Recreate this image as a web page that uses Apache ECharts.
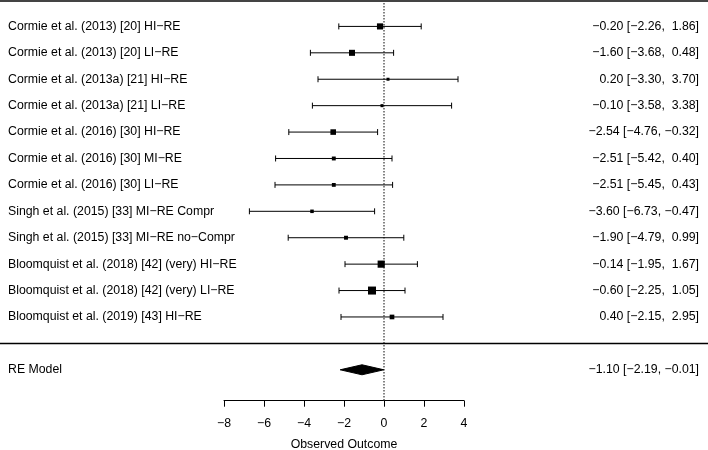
<!DOCTYPE html>
<html>
<head>
<meta charset="utf-8">
<script src="https://cdn.jsdelivr.net/npm/echarts@6/dist/echarts.min.js"></script>
<style>
html,body{margin:0;padding:0;background:#fff;}
#chart{width:708px;height:450px;}
</style>
</head>
<body>
<div id="chart"></div>
<script>
// ---- data ----
const studies = [
  'Cormie et al. (2013) [20] HI\u2212RE',
  'Cormie et al. (2013) [20] LI\u2212RE',
  'Cormie et al. (2013a) [21] HI\u2212RE',
  'Cormie et al. (2013a) [21] LI\u2212RE',
  'Cormie et al. (2016) [30] HI\u2212RE',
  'Cormie et al. (2016) [30] MI\u2212RE',
  'Cormie et al. (2016) [30] LI\u2212RE',
  'Singh et al. (2015) [33] MI\u2212RE Compr',
  'Singh et al. (2015) [33] MI\u2212RE no\u2212Compr',
  'Bloomquist et al. (2018) [42] (very) HI\u2212RE',
  'Bloomquist et al. (2018) [42] (very) LI\u2212RE',
  'Bloomquist et al. (2019) [43] HI\u2212RE'
];
const estimates = [-0.20, -1.60, 0.20, -0.10, -2.54, -2.51, -2.51, -3.60, -1.90, -0.14, -0.60, 0.40];
const ciLower   = [-2.26, -3.68, -3.30, -3.58, -4.76, -5.42, -5.45, -6.73, -4.79, -1.95, -2.25, -2.15];
const ciUpper   = [ 1.86,  0.48,  3.70,  3.38, -0.32,  0.40,  0.43, -0.47,  0.99,  1.67,  1.05,  2.95];
const summaryLabel = 'RE Model';
const summaryEstimate = -1.10;
const summaryLower = -2.19;
const summaryUpper = -0.01;
const xTicks = [-8, -6, -4, -2, 0, 2, 4];
const xAxisTitle = 'Observed Outcome';

// ---- helpers ----
const FONT = 'Liberation Sans, Arial, Helvetica, sans-serif';
const FS = 12.3;
function fmt(v){
  const s = (v < 0 ? '\u2212' : '') + Math.abs(v).toFixed(2);
  return s.length < 5 ? ' '.repeat(5 - s.length) + s : s;
}
function ciText(e, l, u){ return fmt(e) + ' [' + fmt(l) + ', ' + fmt(u) + ']'; }

// marker size from inverse standard error (as metafor does)
const wts = ciLower.map((l, i) => 1 / ((ciUpper[i] - l) / 3.92));
const wMin = Math.min(...wts), wMax = Math.max(...wts);
const sizes = wts.map(w => 3 + 5 * (w - wMin) / (wMax - wMin));

const k = studies.length;
const sepRow = k + 1;
const sumRow = k + 2;
const yMax = 15.17;

const studyData = estimates.map((e, i) => [e, ciLower[i], ciUpper[i], i + 1]);

const chart = echarts.init(document.getElementById('chart'), null, {renderer: 'canvas'});
const W = 708;

const option = {
  animation: false,
  backgroundColor: '#fff',
  grid: {left: 224, right: 244, top: 0, bottom: 49.3, containLabel: false, outerBoundsMode: 'none'},
  xAxis: {
    type: 'value', min: xTicks[0], max: xTicks[xTicks.length - 1], interval: 2,
    position: 'bottom',
    axisLine: {show: true, onZero: false, lineStyle: {color: '#000', width: 1}},
    axisTick: {show: true, inside: false, length: 6, lineStyle: {color: '#000', width: 1}},
    axisLabel: {color: '#000', fontSize: FS, fontFamily: FONT, margin: 17,
      formatter: v => (v < 0 ? '\u2212' : '') + Math.abs(v)},
    splitLine: {show: false},
    name: xAxisTitle, nameLocation: 'middle', nameGap: 38,
    nameTextStyle: {color: '#000', fontSize: FS, fontFamily: FONT}
  },
  yAxis: {type: 'value', inverse: true, min: 0, max: yMax, show: false},
  series: [
    {
      type: 'custom', clip: false, z: 1,
      data: [[0, 0]],
      encode: {x: 0, y: 1},
      renderItem: function(params, api){
        const top = api.coord([0, 0]);
        const bot = api.coord([0, yMax]);
        const sep = api.coord([0, sepRow]);
        return {type: 'group', children: [
          {type: 'line', shape: {x1: top[0], y1: top[1], x2: bot[0], y2: bot[1]},
            style: {stroke: '#333', lineWidth: 1.2, lineDash: [1.5, 1.5]}},
          {type: 'line', shape: {x1: 0, y1: top[1] + 1, x2: W, y2: top[1] + 1},
            style: {stroke: '#444', lineWidth: 2}},
          {type: 'line', shape: {x1: 0, y1: sep[1], x2: W, y2: sep[1]},
            style: {stroke: '#000', lineWidth: 1.5}}
        ]};
      }
    },
    {
      type: 'custom', clip: false, z: 2,
      data: studyData,
      dimensions: ['est', 'lo', 'hi', 'row'],
      encode: {x: [0, 1, 2], y: 3},
      renderItem: function(params, api){
        const i = params.dataIndex;
        const row = api.value(3);
        const pE = api.coord([api.value(0), row]);
        const pL = api.coord([api.value(1), row]);
        const pH = api.coord([api.value(2), row]);
        const y = pE[1];
        const s = sizes[i];
        const ls = {stroke: '#000', lineWidth: 1};
        return {type: 'group', children: [
          {type: 'line', shape: {x1: pL[0], y1: y, x2: pH[0], y2: y}, style: ls},
          {type: 'line', shape: {x1: pL[0], y1: y - 3, x2: pL[0], y2: y + 3}, style: ls},
          {type: 'line', shape: {x1: pH[0], y1: y - 3, x2: pH[0], y2: y + 3}, style: ls},
          {type: 'rect', shape: {x: pE[0] - s / 2, y: y - s / 2, width: s, height: s}, style: {fill: '#000'}},
          {type: 'text', x: 8, y: y, style: {text: studies[i], fill: '#000', fontSize: FS, fontFamily: FONT, align: 'left', verticalAlign: 'middle'}},
          {type: 'text', x: 699, y: y, style: {text: ciText(estimates[i], ciLower[i], ciUpper[i]), fill: '#000', fontSize: FS, fontFamily: FONT, align: 'right', verticalAlign: 'middle'}}
        ]};
      }
    },
    {
      type: 'custom', clip: false, z: 3,
      data: [[summaryEstimate, summaryLower, summaryUpper, sumRow]],
      encode: {x: [0, 1, 2], y: 3},
      renderItem: function(params, api){
        const row = api.value(3);
        const pE = api.coord([api.value(0), row]);
        const pL = api.coord([api.value(1), row]);
        const pH = api.coord([api.value(2), row]);
        const y = pE[1];
        return {type: 'group', children: [
          {type: 'polygon', shape: {points: [[pL[0], y], [pE[0], y - 5], [pH[0], y], [pE[0], y + 5]]}, style: {fill: '#000', stroke: '#000', lineWidth: 1}},
          {type: 'text', x: 8, y: y, style: {text: summaryLabel, fill: '#000', fontSize: FS, fontFamily: FONT, align: 'left', verticalAlign: 'middle'}},
          {type: 'text', x: 699, y: y, style: {text: ciText(summaryEstimate, summaryLower, summaryUpper), fill: '#000', fontSize: FS, fontFamily: FONT, align: 'right', verticalAlign: 'middle'}}
        ]};
      }
    }
  ]
};
chart.setOption(option);
</script>
</body>
</html>
